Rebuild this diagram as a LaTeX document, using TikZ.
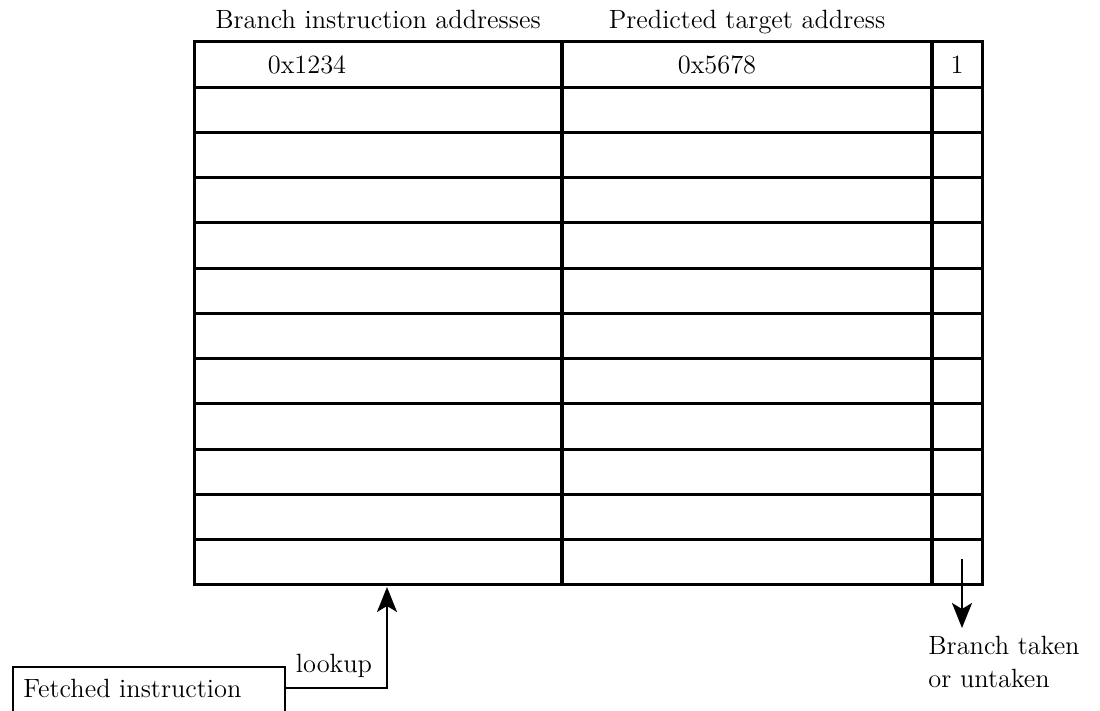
\documentclass[tikz,border=0pt]{standalone}
\usetikzlibrary{arrows.meta}
\begin{document}
\begin{tikzpicture}[x=0.5pt,y=-0.5pt,
  every node/.style={font=\fontsize{13.2}{16}\selectfont, inner sep=0pt},
  grid/.style={line width=1.5pt, line cap=rect},
  divider/.style={line width=2pt},
  wire/.style={line width=1pt},
  arrowhead/.style={-{Stealth[length=12.5pt,width=10pt,inset=3pt]}},
  label/.style={anchor=base}]
\useasboundingbox (0,0) rectangle (1100,711);

% table frame and rows (12 rows of equal height)
\foreach \i in {0,...,12} {
  \draw[grid] (194,{42+\i*45.25}) -- (982,{42+\i*45.25});
}
\draw[grid] (194,42) -- (194,585);
\draw[grid] (982,42) -- (982,585);
% column dividers
\draw[divider] (562,42) -- (562,585);
\draw[divider] (932,42) -- (932,585);

% column headings
\node[label] (h1) at (378,29) {Branch instruction addresses};
\node[label] (h2) at (747,29) {Predicted target address};

% first entry
\node[label] (a1) at (307,74) {0x1234};
\node[label] (t1) at (717,74) {0x5678};
\node[label] (b1) at (957,74) {1};

% fetched instruction box (runs off the lower edge)
\node[draw, wire, anchor=north west, minimum width=136pt, minimum height=30pt] (fetch) at (12,666) {};
\node[anchor=base west] (ftext) at (23,698) {Fetched instruction};

% lookup path into the table
\coordinate (lk) at (387,587);
\coordinate (lkc) at (387,688);
\draw[wire, arrowhead] (fetch.east |- lkc) -- (lkc) -- (lk);
\node[label] (lookup) at (334,673) {lookup};

% prediction output
\coordinate (bt) at (962,559);
\coordinate (btend) at (962,628);
\draw[wire, arrowhead] (bt) -- (btend);
\node[anchor=base west] (taken) at (928,655) {Branch taken};
\node[anchor=base west] (untaken) at (928,688) {or untaken};
\end{tikzpicture}
\end{document}
